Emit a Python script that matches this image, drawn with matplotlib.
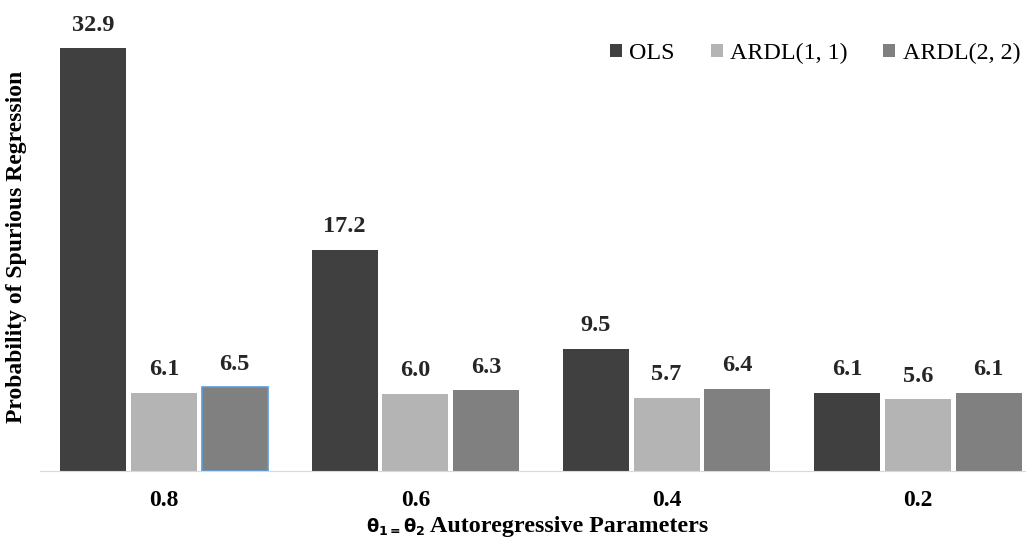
import numpy as np
import matplotlib.pyplot as plt
from matplotlib.patches import Patch

plt.rcParams['mathtext.fontset'] = 'dejavusans'

params = ["0.8", "0.6", "0.4", "0.2"]
ols = [32.9, 17.2, 9.5, 6.1]
ardl11 = [6.1, 6.0, 5.7, 5.6]
ardl22 = [6.5, 6.3, 6.4, 6.1]

series = [("OLS", ols, "#404040"),
          ("ARDL(1, 1)", ardl11, "#b4b4b4"),
          ("ARDL(2, 2)", ardl22, "#808080")]

W, H = 1033, 540
fig = plt.figure(figsize=(W / 100, H / 100), dpi=100)
ax = fig.add_axes([40 / W, 1 - 471 / H, 985 / W, 451 / H])

x = np.arange(len(params))
width = 0.262
step = 0.281
serif = "Liberation Serif"

for i, (name, vals, color) in enumerate(series):
    bars = ax.bar(x + (i - 1) * step, vals, width, color=color)
    for b, v in zip(bars, vals):
        ax.annotate(f"{v:.1f}", (b.get_x() + b.get_width() / 2, v),
                    xytext=(0, 12.5), textcoords="offset points",
                    ha="center", va="baseline", fontsize=17.5,
                    fontweight="bold", family=serif, color="#262626")

# the first ARDL(2,2) bar is outlined in blue in the original
ax.patches[8].set_edgecolor("#5b9bd5")
ax.patches[8].set_linewidth(1.2)

ax.set_xlim(-(164 - 40) / 251.3, 3 + (1025 - 918) / 251.3)
ax.set_ylim(0, 32.9 * 451 / 423)
ax.set_xticks(x)
ax.set_xticklabels(params, fontsize=17, fontweight="bold", family=serif)
ax.tick_params(axis="x", length=0, pad=14)
ax.set_yticks([])
for s in ["top", "right", "left"]:
    ax.spines[s].set_visible(False)
ax.spines["bottom"].set_color("#d9d9d9")

# x axis title: theta part in a sans font, rest in serif
fig.text(426 / W, 1 - 532 / H,
         r"$\mathbf{\theta}_{\mathbf{1=}}\mathbf{\theta}_{\mathbf{2}}$",
         ha="right", va="baseline", fontsize=13)
fig.text(569 / W, 1 - 532 / H, "Autoregressive Parameters",
         ha="center", va="baseline", fontsize=17.3,
         fontweight="bold", family=serif)
fig.text(17 / W, 1 - 247 / H, "Probability of Spurious Regression",
         rotation=90, ha="center", va="center", fontsize=17,
         fontweight="bold", family=serif)

handles = [Patch(facecolor=c, label=n) for n, _, c in series]
ax.legend(handles=handles, loc="upper right", bbox_to_anchor=(1.0, 0.96),
          ncol=3, frameon=False, prop={"family": serif, "size": 17.3},
          handlelength=0.5, handleheight=0.5, handletextpad=0.3,
          columnspacing=1.5, borderpad=0, borderaxespad=0.2)

fig.savefig("out.png", dpi=100)
